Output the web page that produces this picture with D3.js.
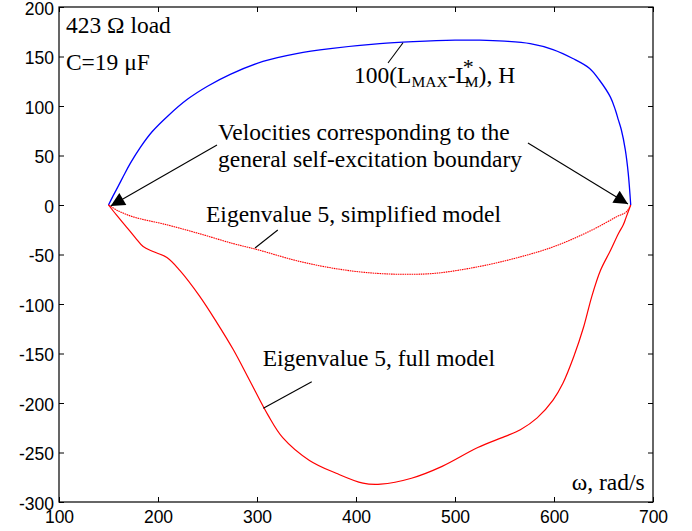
<!DOCTYPE html>
<html>
<head>
<meta charset="utf-8">
<script src="https://cdn.jsdelivr.net/npm/d3@7"></script>
<style>
  body { margin: 0; background: #fff; }
  svg { display: block; }
  .tick text { font-family: "Liberation Sans", Arial, sans-serif; font-size: 17.5px; fill: #000; }
  .note { font-family: "Liberation Serif", "Times New Roman", serif; font-size: 23.5px; fill: #000; }
</style>
</head>
<body>
<div id="chart"></div>
<script>
// axis ranges and ticks
var xTicks = [100, 200, 300, 400, 500, 600, 700];
var yTicks = [-300, -250, -200, -150, -100, -50, 0, 50, 100, 150, 200];

// 100(Lmax - L*m), H  [omega, value]
var inductance = [[150,0],[154,8],[158,15.5],[165,29],[172,42],[182,58],[194,74],[210,90],[230,107],
    [250,120],[273,132],[306,145],[340,153],[374,158],[424,163],[458,165],[500,166.5],[525,166.5],
    [550,165.5],[576,163],[599,157],[619,148],[636,138],[646,126],[657,109],[662,96],[665,86],
    [668,76],[672,56],[675,32],[677.5,0]];

// eigenvalue 5, full model
var eigFull = [[150,0],[158,-10],[168,-22],[177,-33],[185,-42],[195,-47],[209,-53],[222,-66],
    [242,-92],[259,-118],[276,-146],[293,-178],[311,-212],[326,-235],[353,-258],[380,-271],
    [407,-281],[425,-282],[456,-276],[487,-264],[523,-245],[550,-234],[566,-227],[583,-215],
    [599,-197],[609,-180],[620,-153],[630,-123],[638,-93],[647,-66],[657,-46],[665,-29],
    [670,-20],[673,-12],[677.5,0]];

// eigenvalue 5, simplified model
var eigSimple = [[150,0],[160,-6],[175,-12],[209,-20],[242,-29],[276,-39],[300,-45],[343,-57],
    [384,-65],[420,-69],[450,-70],[480,-69],[520,-63],[560,-54],[600,-42],[639,-25],[663,-12],
    [673,-7],[677.5,0]];

var width = 692, height = 531;
var margin = {top: 7, right: 39, bottom: 29, left: 59};

var svg = d3.select("#chart").append("svg").attr("width", width).attr("height", height);

var x = d3.scaleLinear().domain([100, 700]).range([margin.left, width - margin.right]);
var y = d3.scaleLinear().domain([-300, 200]).range([height - margin.bottom, margin.top]);

// arrowhead
svg.append("defs").append("marker")
    .attr("id", "head")
    .attr("viewBox", "0 0 10 10")
    .attr("refX", 10).attr("refY", 5)
    .attr("markerUnits", "userSpaceOnUse")
    .attr("markerWidth", 17).attr("markerHeight", 14)
    .attr("orient", "auto")
    .append("path").attr("d", "M0,0L10,5L0,10Z").attr("fill", "#000");

var line = d3.line()
    .x(function(d) { return x(d[0]); })
    .y(function(d) { return y(d[1]); })
    .curve(d3.curveCatmullRom.alpha(0.5));

svg.append("path").datum(inductance).attr("d", line)
    .attr("fill", "none").attr("stroke", "#0000ff").attr("stroke-width", 1.3);
svg.append("path").datum(eigFull).attr("d", line)
    .attr("fill", "none").attr("stroke", "#ff0000").attr("stroke-width", 1.2);
svg.append("path").datum(eigSimple).attr("d", line)
    .attr("fill", "none").attr("stroke", "#ff0000").attr("stroke-width", 1.1)
    .attr("stroke-dasharray", "1.6,0.7");

// axes, ticks inward on all four sides
function styleAxis(g) {
    g.select(".domain").remove();
    g.selectAll(".tick line").attr("stroke", "#000");
}
svg.append("g").attr("transform", "translate(0," + y(-300) + ")")
    .call(d3.axisBottom(x).tickValues(xTicks).tickSize(-5).tickPadding(9).tickFormat(String))
    .call(styleAxis);
svg.append("g").attr("transform", "translate(0," + y(200) + ")")
    .call(d3.axisTop(x).tickValues(xTicks).tickSize(-5).tickFormat(""))
    .call(styleAxis);
svg.append("g").attr("class", "yaxis").attr("transform", "translate(" + x(100) + ",0)")
    .call(d3.axisLeft(y).tickValues(yTicks).tickSize(-5).tickPadding(5).tickFormat(String))
    .call(styleAxis);
svg.append("g").attr("transform", "translate(" + x(700) + ",0)")
    .call(d3.axisRight(y).tickValues(yTicks).tickSize(-5).tickFormat(""))
    .call(styleAxis);
svg.selectAll(".tick text").attr("font-family", null).attr("font-size", null);
svg.selectAll(".yaxis .tick text").attr("dy", "0.42em");

svg.append("rect")
    .attr("x", x(100)).attr("y", y(200))
    .attr("width", x(700) - x(100)).attr("height", y(-300) - y(200))
    .attr("fill", "none").attr("stroke", "#000").attr("stroke-width", 1.2);

// text labels
function note(wx, wv, txt) {
    return svg.append("text").attr("class", "note").attr("x", x(wx)).attr("y", y(wv)).text(txt);
}
note(107, 173.7, "423 \u03A9 load");
note(107, 136, "C=19 \u03BCF");
note(260.6, 65.7, "Velocities corresponding to the");
note(260.6, 38.4, "general self-excitation boundary");
note(248.5, -17.2, "Eigenvalue 5, simplified model");
note(305.8, -162.6, "Eigenvalue 5, full model");
note(618, -288, "\u03C9, rad/s");

var lt = svg.append("text").attr("class", "note").attr("x", x(398)).attr("y", y(123.2));
lt.append("tspan").text("100(L");
lt.append("tspan").attr("font-size", 15.5).attr("dy", 4).text("MAX");
lt.append("tspan").attr("dy", -4).text("-L");
lt.append("tspan").attr("font-size", 22).attr("dx", -7).attr("dy", -9).text("*");
lt.append("tspan").attr("font-size", 15.5).attr("dx", -9).attr("dy", 13).text("M");
lt.append("tspan").attr("dy", -4).text("), H");

// leader lines and arrows
function leader(a, b, arrow) {
    var l = svg.append("line")
        .attr("x1", x(a[0])).attr("y1", y(a[1]))
        .attr("x2", x(b[0])).attr("y2", y(b[1]))
        .attr("stroke", "#000").attr("stroke-width", 1.1);
    if (arrow) l.attr("marker-end", "url(#head)");
}
leader([259.6, 60.6], [152.2, -1], true);
leader([573.7, 62.6], [674.7, 1], true);
leader([321, -25.3], [298, -43.4], false);
leader([355.3, -178.5], [306.4, -205.4], false);
leader([432.3, 143.4], [447.5, 163.9], false);
</script>
</body>
</html>
